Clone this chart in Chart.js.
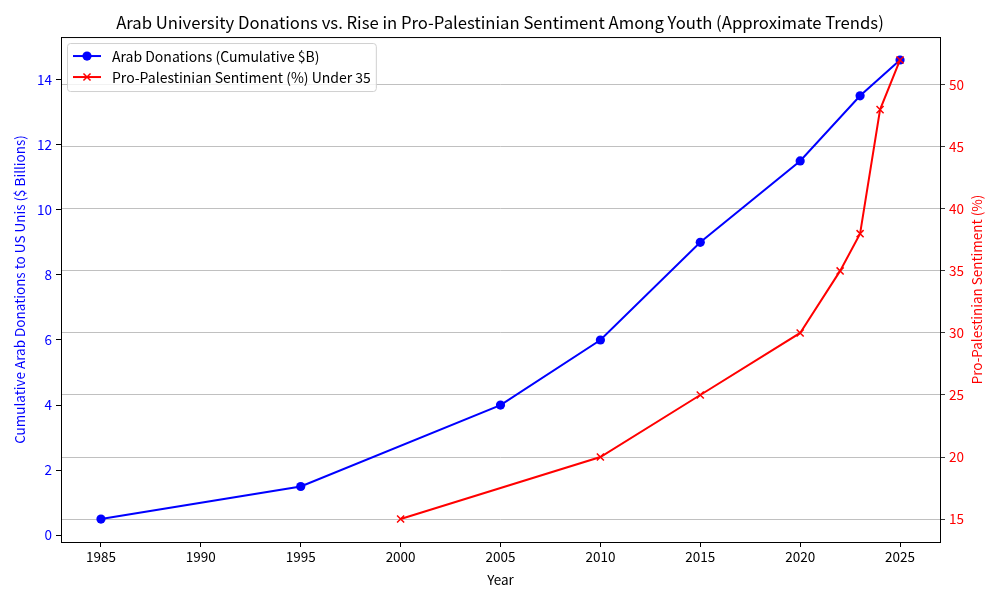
<!DOCTYPE html>
<html>
<head>
<meta charset="utf-8">
<script src="https://cdn.jsdelivr.net/npm/chart.js@4"></script>
<style>
  html, body { margin: 0; padding: 0; background: #fff; }
  #graph { display: block; }
</style>
</head>
<body>
<canvas id="graph" width="1000" height="600"></canvas>
<script>
// データ
const donationYears = [1985, 1995, 2005, 2010, 2015, 2020, 2023, 2025];
const donationValues = [0.5, 1.5, 4, 6, 9, 11.5, 13.5, 14.6];
const sentimentYears = [2000, 2010, 2015, 2020, 2022, 2023, 2024, 2025];
const sentimentValues = [15, 20, 25, 30, 35, 38, 48, 52];
const xTicks = [1985, 1990, 1995, 2000, 2005, 2010, 2015, 2020, 2025];
const leftTicks = [0, 2, 4, 6, 8, 10, 12, 14];
const rightTicks = [15, 20, 25, 30, 35, 40, 45, 50];

const leftLabel = "Cumulative Arab Donations to US Unis ($ Billions)";
const rightLabel = "Pro-Palestinian Sentiment (%)";

const FONT = "'Noto Sans CJK JP', 'Noto Sans', sans-serif";
const tickFont = { family: FONT, size: 13.5 };

const toPoints = (xs, ys) => xs.map((x, i) => ({ x, y: ys[i] }));
const fixTicks = (list) => (scale) => {
  scale.ticks = list.map((v) => ({ value: v }));
};

// 枠線・縦軸タイトル・凡例（プロット内）
const framePlugin = {
  id: "frame",
  afterDraw(chart) {
    const { ctx, chartArea: a } = chart;
    ctx.save();
    ctx.strokeStyle = "#000";
    ctx.lineWidth = 1;
    ctx.strokeRect(a.left + 0.5, a.top + 0.5, a.right - a.left, a.bottom - a.top);

    // 縦軸タイトル（どちらも下から上へ）
    const midY = (a.top + a.bottom) / 2;
    ctx.font = `13.5px ${FONT}`;
    ctx.textAlign = "center";
    ctx.textBaseline = "middle";
    [[20, leftLabel, "#0000ff"], [977, rightLabel, "#ff0000"]].forEach(([x, text, color]) => {
      ctx.save();
      ctx.translate(x, midY);
      ctx.rotate(-Math.PI / 2);
      ctx.fillStyle = color;
      ctx.fillText(text, 0, 0);
      ctx.restore();
    });

    // 凡例
    const sets = chart.data.datasets;
    ctx.textAlign = "left";
    ctx.font = `14px ${FONT}`;
    const textW = Math.max(...sets.map((d) => ctx.measureText(d.label).width));
    const bx = a.left + 6, by = a.top + 6;
    const bw = 45 + textW + 5, rowH = 21, bh = sets.length * rowH + 6;
    ctx.fillStyle = "rgba(255,255,255,0.8)";
    ctx.strokeStyle = "#d0d0d0";
    ctx.lineWidth = 1;
    ctx.beginPath();
    ctx.roundRect(bx + 0.5, by + 0.5, bw, bh, 3);
    ctx.fill();
    ctx.stroke();
    sets.forEach((d, i) => {
      const cy = by + 13 + i * rowH;
      ctx.strokeStyle = d.borderColor;
      ctx.lineWidth = 2;
      ctx.beginPath();
      ctx.moveTo(bx + 6, cy);
      ctx.lineTo(bx + 34, cy);
      ctx.stroke();
      ctx.fillStyle = d.pointBackgroundColor;
      ctx.strokeStyle = d.pointBorderColor;
      ctx.lineWidth = d.pointBorderWidth;
      Chart.helpers.drawPoint(ctx, {
        pointStyle: d.pointStyle,
        radius: d.pointRadius,
        borderWidth: d.pointBorderWidth,
      }, bx + 20, cy);
      ctx.fillStyle = "#000";
      ctx.textBaseline = "middle";
      ctx.fillText(d.label, bx + 45, cy + 1);
    });
    ctx.restore();
  },
};

const ctx = document.getElementById("graph").getContext("2d");

new Chart(ctx, {
  type: "line",
  data: {
    datasets: [
      {
        label: "Arab Donations (Cumulative $B)",
        data: toPoints(donationYears, donationValues),
        yAxisID: "y",
        borderColor: "#0000ff",
        backgroundColor: "#0000ff",
        borderWidth: 2,
        pointStyle: "circle",
        pointRadius: 4.6,
        pointBorderWidth: 0,
        pointBackgroundColor: "#0000ff",
        pointBorderColor: "#0000ff",
        order: 1,
      },
      {
        label: "Pro-Palestinian Sentiment (%) Under 35",
        data: toPoints(sentimentYears, sentimentValues),
        yAxisID: "y2",
        borderColor: "#ff0000",
        backgroundColor: "#ff0000",
        borderWidth: 2,
        pointStyle: "crossRot",
        pointRadius: 5,
        pointBorderWidth: 1.5,
        pointBackgroundColor: "#ff0000",
        pointBorderColor: "#ff0000",
        order: 0,
      },
    ],
  },
  options: {
    responsive: false,
    animation: false,
    devicePixelRatio: 1,
    layout: { padding: 0 },
    plugins: {
      legend: { display: false },
      tooltip: { enabled: false },
      title: {
        display: true,
        text: "Arab University Donations vs. Rise in Pro-Palestinian Sentiment Among Youth (Approximate Trends)",
        color: "#000",
        font: { family: FONT, size: 16.7, weight: "normal" },
        padding: { top: 13, bottom: 4 },
      },
    },
    scales: {
      x: {
        type: "linear",
        min: 1983,
        max: 2027,
        afterBuildTicks: fixTicks(xTicks),
        afterFit(scale) { scale.height = 58; },
        ticks: { color: "#000", font: tickFont, padding: 2, maxRotation: 0, callback: (v) => String(v) },
        grid: { drawOnChartArea: false, tickLength: 5, tickColor: "#000" },
        border: { color: "#000" },
        title: { display: true, text: "Year", color: "#000", font: { family: FONT, size: 13.5 }, padding: { top: 0, bottom: 12 } },
      },
      y: {
        position: "left",
        min: -0.205,
        max: 15.305,
        afterBuildTicks: fixTicks(leftTicks),
        afterFit(scale) { scale.width = 61; },
        ticks: { color: "#0000ff", font: tickFont, padding: 4 },
        grid: { drawOnChartArea: false, tickLength: 5, tickColor: "#000" },
        border: { color: "#000" },
      },
      y2: {
        position: "right",
        min: 13.15,
        max: 53.85,
        afterBuildTicks: fixTicks(rightTicks),
        afterFit(scale) { scale.width = 60; },
        ticks: { color: "#ff0000", font: tickFont, padding: 4 },
        grid: { color: "#b0b0b0", lineWidth: 0.8, tickLength: 5, tickColor: "#000" },
        border: { color: "#000" },
      },
    },
  },
  plugins: [framePlugin],
});
</script>
</body>
</html>
